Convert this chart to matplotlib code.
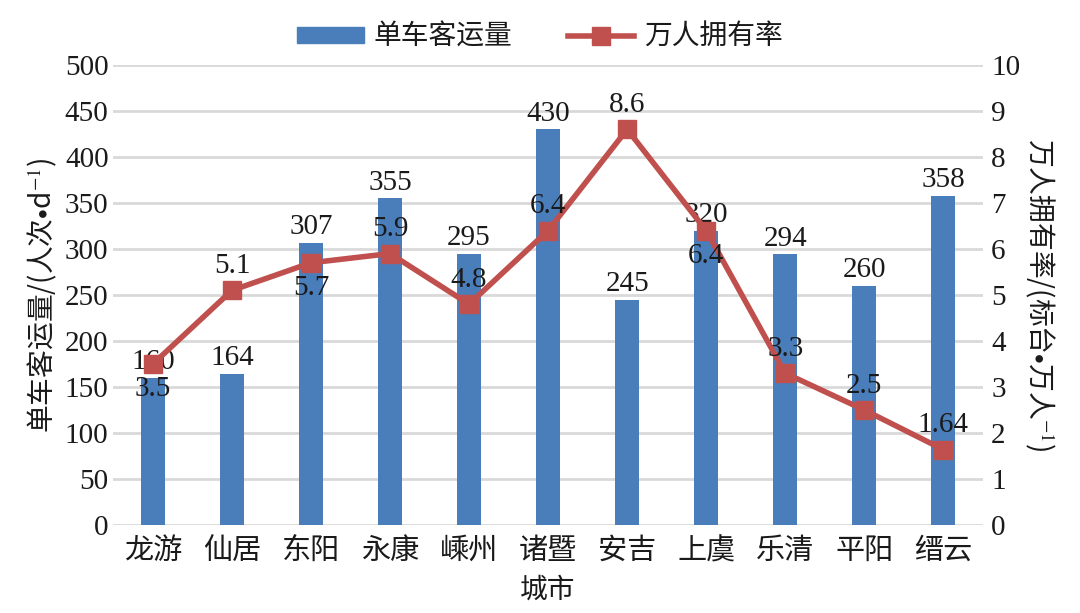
import matplotlib.pyplot as plt
from matplotlib.lines import Line2D
from matplotlib.patches import Patch

plt.rcParams['font.family'] = ['Liberation Serif', 'Noto Sans CJK SC']
plt.rcParams['mathtext.fontset'] = 'stix'

cities = ['龙游', '仙居', '东阳', '永康', '嵊州', '诸暨', '安吉', '上虞', '乐清', '平阳', '缙云']
volume = [160, 164, 307, 355, 295, 430, 245, 320, 294, 260, 358]
ownership = [3.5, 5.1, 5.7, 5.9, 4.8, 6.4, 8.6, 6.4, 3.3, 2.5, 1.64]
own_labels = ['3.5', '5.1', '5.7', '5.9', '4.8', '6.4', '8.6', '6.4', '3.3', '2.5', '1.64']
# where the line labels sit relative to the marker
own_pos = ['below', 'above', 'below', 'above', 'above', 'above', 'above', 'below', 'above', 'above', 'above']

blue = '#4a7ebb'
red = '#c0504d'
txt = '#1a1a1a'
cjk = ['Noto Sans CJK SC', 'Liberation Serif']

fig = plt.figure(figsize=(10.8, 6.13), dpi=100)
ax1 = fig.add_axes([0.105, 0.1436, 0.805, 0.7504])
x = list(range(len(cities)))

ax1.bar(x, volume, width=0.30, color=blue, zorder=2)
ax1.set_ylim(0, 500)
ax1.set_yticks(range(0, 501, 50))
ax1.set_xlim(-0.5, len(cities) - 0.5)
ax1.set_xticks(x)
ax1.set_xticklabels(cities, family=cjk, fontsize=20, fontweight='light')
ax1.yaxis.grid(True, color='#d9d9d9', linewidth=2)
ax1.set_axisbelow(True)
ax1.tick_params(axis='both', length=0, labelsize=21, colors=txt)
ax1.tick_params(axis='x', pad=8)
for s in ax1.spines.values():
    s.set_visible(False)

for xi, v in zip(x, volume):
    ax1.annotate(str(v), (xi, v), xytext=(0, 2), textcoords='offset points',
                 ha='center', va='bottom', fontsize=21, color=txt)

ax1.set_ylabel(r'单车客运量/(人次$\bullet$d$^{-1}$)', family=cjk, fontsize=20,
               fontweight='light', labelpad=4, color=txt)
ax1.set_xlabel('城市', family=cjk, fontsize=20, fontweight='light', labelpad=6, color=txt)

ax2 = ax1.twinx()
ax2.plot(x, ownership, color=red, linewidth=4, marker='s', markersize=13, zorder=3)
ax2.set_ylim(0, 10)
ax2.set_yticks(range(0, 11))
ax2.tick_params(axis='y', length=0, labelsize=21, colors=txt, pad=6)
for s in ax2.spines.values():
    s.set_visible(False)
ax2.set_ylabel(r'万人拥有率/(标台$\bullet$万人$^{-1}$)', family=cjk, fontsize=20,
               fontweight='light', rotation=270, labelpad=26, color=txt)

for xi, v, lab, pos in zip(x, ownership, own_labels, own_pos):
    if pos == 'above':
        ax2.annotate(lab, (xi, v), xytext=(0, 8), textcoords='offset points',
                     ha='center', va='bottom', fontsize=21, color=txt)
    else:
        ax2.annotate(lab, (xi, v), xytext=(0, -9), textcoords='offset points',
                     ha='center', va='top', fontsize=21, color=txt)

handles = [Patch(color=blue),
           Line2D([], [], color=red, linewidth=4, marker='s', markersize=13)]
fig.legend(handles, ['单车客运量', '万人拥有率'], loc='upper center',
           bbox_to_anchor=(0.5, 1.005), ncol=2, frameon=False,
           prop={'family': cjk, 'size': 20, 'weight': 'light'},
           handlelength=2.4, handleheight=0.55, handletextpad=0.35,
           columnspacing=2.0, labelcolor=txt)

fig.savefig('out.png', dpi=100)
